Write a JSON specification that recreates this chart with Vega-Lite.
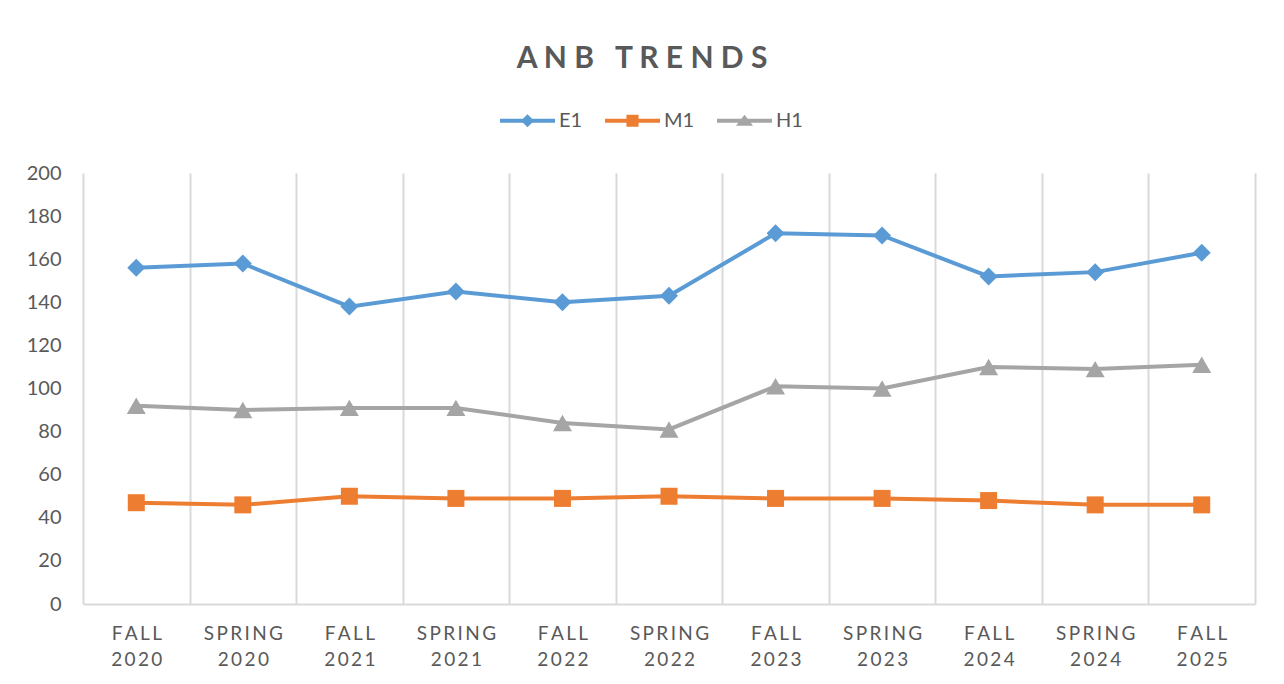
{
  "$schema": "https://vega.github.io/schema/vega-lite/v6.json",
  "width": 1172,
  "height": 431,
  "autosize": "none",
  "padding": {"left": 83, "top": 173, "right": 29, "bottom": 80},
  "background": "white",
  "config": {"font": "Lato", "view": {"stroke": null}},
  "title": {"text": "A N B\u00a0\u00a0\u00a0T R E N D S", "fontSize": 30, "fontWeight": "bold", "color": "#595959", "anchor": "middle", "dx": -27, "offset": 19},
  "data": {"values": [
    {"term": "FALL 2020", "series": "E1", "value": 156},
    {"term": "SPRING 2020", "series": "E1", "value": 158},
    {"term": "FALL 2021", "series": "E1", "value": 138},
    {"term": "SPRING 2021", "series": "E1", "value": 145},
    {"term": "FALL 2022", "series": "E1", "value": 140},
    {"term": "SPRING 2022", "series": "E1", "value": 143},
    {"term": "FALL 2023", "series": "E1", "value": 172},
    {"term": "SPRING 2023", "series": "E1", "value": 171},
    {"term": "FALL 2024", "series": "E1", "value": 152},
    {"term": "SPRING 2024", "series": "E1", "value": 154},
    {"term": "FALL 2025", "series": "E1", "value": 163},
    {"term": "FALL 2020", "series": "M1", "value": 47},
    {"term": "SPRING 2020", "series": "M1", "value": 46},
    {"term": "FALL 2021", "series": "M1", "value": 50},
    {"term": "SPRING 2021", "series": "M1", "value": 49},
    {"term": "FALL 2022", "series": "M1", "value": 49},
    {"term": "SPRING 2022", "series": "M1", "value": 50},
    {"term": "FALL 2023", "series": "M1", "value": 49},
    {"term": "SPRING 2023", "series": "M1", "value": 49},
    {"term": "FALL 2024", "series": "M1", "value": 48},
    {"term": "SPRING 2024", "series": "M1", "value": 46},
    {"term": "FALL 2025", "series": "M1", "value": 46},
    {"term": "FALL 2020", "series": "H1", "value": 92},
    {"term": "SPRING 2020", "series": "H1", "value": 90},
    {"term": "FALL 2021", "series": "H1", "value": 91},
    {"term": "SPRING 2021", "series": "H1", "value": 91},
    {"term": "FALL 2022", "series": "H1", "value": 84},
    {"term": "SPRING 2022", "series": "H1", "value": 81},
    {"term": "FALL 2023", "series": "H1", "value": 101},
    {"term": "SPRING 2023", "series": "H1", "value": 100},
    {"term": "FALL 2024", "series": "H1", "value": 110},
    {"term": "SPRING 2024", "series": "H1", "value": 109},
    {"term": "FALL 2025", "series": "H1", "value": 111}
  ]},
  "encoding": {
    "x": {
      "field": "term", "type": "ordinal", "sort": null,
      "scale": {"paddingInner": 0, "paddingOuter": 0},
      "axis": {
        "title": null, "labelAngle": 0, "grid": true, "tickBand": "extent",
        "gridColor": "#d9d9d9", "gridWidth": 2, "ticks": false,
        "domainColor": "#d9d9d9", "domainWidth": 2,
        "labelPadding": 20, "labelFontSize": 19, "labelColor": "#595959", "labelLineHeight": 26,
        "labelExpr": "indexof(datum.label + '', ' ') < 0 ? '' : [replace(split(datum.label, ' ')[0], regexp('(.)(?=.)', 'g'), '$1\u2009'), replace(split(datum.label, ' ')[1], regexp('(.)(?=.)', 'g'), '$1\u2009')]"
      }
    },
    "y": {
      "field": "value", "type": "quantitative",
      "scale": {"domain": [0, 200]},
      "axis": {
        "title": null, "values": [0, 20, 40, 60, 80, 100, 120, 140, 160, 180, 200],
        "domain": false, "ticks": false, "grid": false,
        "labelFontSize": 20, "labelColor": "#595959", "labelPadding": 22
      }
    },
    "color": {
      "field": "series", "type": "nominal",
      "scale": {"domain": ["E1", "M1", "H1"], "range": ["#5B9BD5", "#ED7D31", "#A5A5A5"]},
      "legend": {
        "orient": "none", "legendX": 417, "legendY": -80, "direction": "horizontal", "title": null,
        "labelFontSize": 20, "labelColor": "#595959", "symbolSize": 3025, "symbolStrokeWidth": 0,
        "symbolOpacity": 1, "labelOffset": 4, "columnPadding": 22
      }
    }
  },
  "layer": [
    {"mark": {"type": "line", "strokeWidth": 4}},
    {
      "transform": [{"filter": "datum.series === 'E1'"}],
      "mark": {"type": "point", "filled": true, "opacity": 1, "shape": "diamond", "size": 324}
    },
    {
      "transform": [{"filter": "datum.series === 'M1'"}],
      "mark": {"type": "point", "filled": true, "opacity": 1, "shape": "square", "size": 289}
    },
    {
      "transform": [{"filter": "datum.series === 'H1'"}],
      "mark": {"type": "point", "filled": true, "opacity": 1, "shape": "triangle-up", "size": 361}
    },
    {
      "transform": [{"filter": "false"}],
      "mark": {"type": "point", "filled": true, "opacity": 1},
      "encoding": {
        "shape": {
          "field": "series", "type": "nominal",
          "scale": {"domain": ["E1", "M1", "H1"], "range": [
            "M-1,-0.075L1,-0.075L1,0.075L-1,0.075Z M0,-0.24L0.24,0L0,0.24L-0.24,0Z",
            "M-1,-0.075L1,-0.075L1,0.075L-1,0.075Z M-0.22,-0.22L0.22,-0.22L0.22,0.22L-0.22,0.22Z",
            "M-1,-0.075L1,-0.075L1,0.075L-1,0.075Z M0,-0.22L0.31,0.18L-0.31,0.18Z"
          ]},
          "legend": {
            "orient": "none", "legendX": 417, "legendY": -80, "direction": "horizontal", "title": null,
            "labelFontSize": 20, "labelColor": "#595959", "symbolSize": 3025, "symbolStrokeWidth": 0,
            "symbolOpacity": 1, "labelOffset": 4, "columnPadding": 22
          }
        }
      }
    }
  ]
}
